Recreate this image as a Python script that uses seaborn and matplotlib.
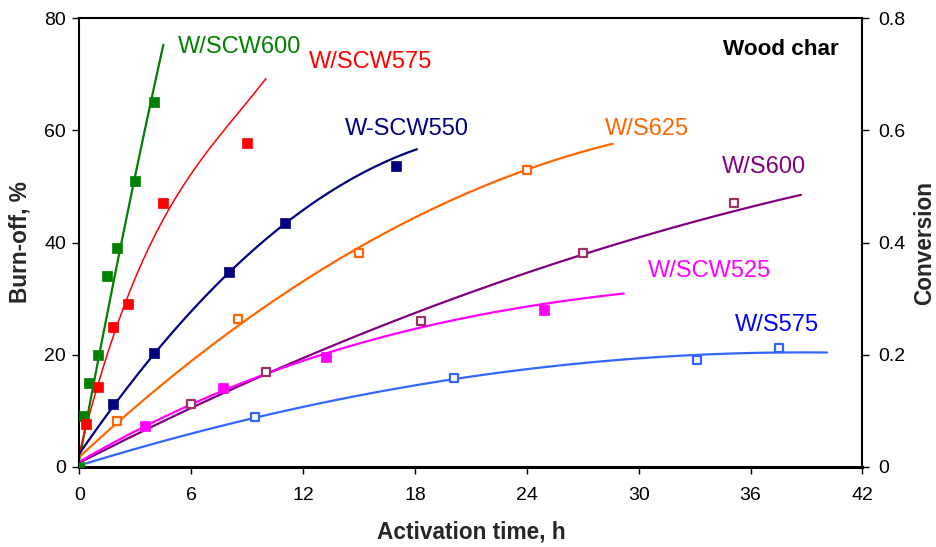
import matplotlib
matplotlib.use("Agg")
import matplotlib.pyplot as plt
import seaborn as sns

# ---------------------------------------------------------------
# measured burn-off (%) against activation time (h)
# ---------------------------------------------------------------
scw600_t = [0, 0.25, 0.5, 1, 1.5, 2, 3, 4]
scw600_y = [0, 9, 15, 20, 34, 39, 51, 65]
scw575_t = [0.33, 1, 1.8, 2.6, 4.5, 9]
scw575_y = [7.6, 14.3, 25, 29, 47, 57.7]
scw550_t = [1.8, 4, 8, 11, 17]
scw550_y = [11.2, 20.3, 34.7, 43.5, 53.6]
s625_t = [2, 8.5, 15, 24]
s625_y = [8.1, 26.3, 38.1, 53]
s600_t = [6, 10, 18.3, 27, 35.1]
s600_y = [11.2, 16.9, 26, 38.1, 47]
scw525_t = [3.5, 7.7, 13.2, 24.9]
scw525_y = [7.3, 14.1, 19.5, 27.9]
s575_t = [9.4, 20.1, 33.1, 37.5]
s575_y = [8.8, 15.8, 19, 21.1]

# trend lines (smoothed by seaborn's regplot)
scw600_fit_t = [0, 1, 2, 3, 4, 4.5]
scw600_fit_y = [1, 19.7, 35.7, 51.7, 67.5, 75.6]
scw575_fit_t = [0, 0.33, 1, 1.8, 2.6, 4, 5.5, 7, 8.5, 10]
scw575_fit_y = [2, 7, 15, 23.5, 30.5, 40.5, 49.5, 57, 63.5, 69]
scw550_fit_t = [0, 1, 2, 4, 6, 8, 11.3, 15, 18.1]
scw550_fit_y = [2, 7, 12, 20.3, 27.7, 34.7, 43.7, 52, 56.8]
s625_fit_t = [0, 2, 5, 8.4, 11.5, 15, 19, 23, 28.6]
s625_fit_y = [0.8, 8.3, 16.8, 25.4, 32, 38.5, 45.6, 52, 57.8]
s600_fit_t = [0, 6, 11.7, 18.3, 23, 27.1, 33, 38.7]
s600_fit_y = [0.5, 11, 18.8, 27.4, 33.4, 38.3, 43.8, 48.4]
scw525_fit_t = [0, 3.5, 7.7, 11.5, 15, 18.3, 23, 29.2]
scw525_fit_y = [0.8, 7.2, 14, 18.1, 21.6, 24.9, 28.3, 30.8]
s575_fit_t = [0, 6, 9.4, 11.5, 15, 20.1, 27.5, 32.3, 37.5, 40.1]
s575_fit_y = [0.3, 5.7, 8.8, 10.3, 12.7, 15.8, 18.6, 19.7, 20.4, 20.4]

series_names = ['W/SCW600', 'W/SCW575', 'W-SCW550', 'W/S625',
                'W/S600', 'W/SCW525', 'W/S575']

# ---------------------------------------------------------------
# styling
# ---------------------------------------------------------------
sns.set_theme(style="white")
plt.rcParams['font.family'] = ['Liberation Sans', 'DejaVu Sans']

points = {
    'W/SCW600': (scw600_t, scw600_y),
    'W/SCW575': (scw575_t, scw575_y),
    'W-SCW550': (scw550_t, scw550_y),
    'W/S625': (s625_t, s625_y),
    'W/S600': (s600_t, s600_y),
    'W/SCW525': (scw525_t, scw525_y),
    'W/S575': (s575_t, s575_y),
}
fits = {
    'W/SCW600': (scw600_fit_t, scw600_fit_y),
    'W/SCW575': (scw575_fit_t, scw575_fit_y),
    'W-SCW550': (scw550_fit_t, scw550_fit_y),
    'W/S625': (s625_fit_t, s625_fit_y),
    'W/S600': (s600_fit_t, s600_fit_y),
    'W/SCW525': (scw525_fit_t, scw525_fit_y),
    'W/S575': (s575_fit_t, s575_fit_y),
}
# line colour, marker colour, filled?, line width, label colour, label position, trend order
style = {
    'W/SCW600': ('#008000', '#008000', True, 1.6, '#008000', (5.28, 73.8), 2),
    'W/SCW575': ('#FF0000', '#FF0000', True, 1.1, '#FF0000', (12.31, 71.1), 3),
    'W-SCW550': ('#000080', '#000080', True, 1.6, '#000080', (14.24, 59.2), 2),
    'W/S625': ('#FF6600', '#FF6600', False, 1.6, '#FF6600', (28.19, 59.2), 2),
    'W/S600': ('#800080', '#993366', False, 1.6, '#800080', (34.45, 52.4), 2),
    'W/SCW525': ('#FF00FF', '#FF00FF', True, 1.6, '#FF00FF', (30.5, 33.9), 3),
    'W/S575': ('#3366FF', '#3366FF', False, 1.6, '#0000FF', (35.17, 24.2), 3),
}

fig = plt.figure(figsize=(9.36, 5.47), dpi=100)
ax = fig.add_axes([0.0849, 0.1468, 0.8365, 0.8197])

# trend lines first, markers on top
for name in series_names:
    lc, mc, filled, lw, tc, pos, order = style[name]
    ft, fy = fits[name]
    sns.regplot(x=ft, y=fy, ax=ax, order=order, ci=None, scatter=False,
                truncate=True, color=lc, line_kws=dict(linewidth=lw, zorder=2))

for name in series_names:
    lc, mc, filled, lw, tc, pos, order = style[name]
    pt, py = points[name]
    if filled:
        sns.scatterplot(x=pt, y=py, ax=ax, marker='s', s=44, color=mc,
                        edgecolor=mc, linewidth=0.5, legend=False, zorder=3)
    else:
        sns.scatterplot(x=pt, y=py, ax=ax, marker='s', s=32, facecolor='white',
                        edgecolor=mc, linewidth=1.6, legend=False, zorder=3)
    ax.text(pos[0], pos[1], name, color=tc, fontsize=17,
            ha='left', va='baseline')

ax.text(34.5, 73.45, 'Wood char', color='black', fontsize=16.2,
        fontweight='bold', ha='left', va='baseline')

ax.set_xlim(0, 42)
ax.set_ylim(0, 80)
ax.set_xticks(range(0, 43, 6))
ax.set_yticks(range(0, 81, 20))
ax.tick_params(axis='both', direction='out', length=4.7, width=1.0,
               color='black', labelsize=14, labelcolor='black',
               left=True, bottom=True)
ax.tick_params(axis='x', pad=10)
ax.tick_params(axis='y', pad=5)
for side in ['left', 'right', 'top']:
    ax.spines[side].set_linewidth(1.5)
    ax.spines[side].set_color('black')
ax.spines['bottom'].set_linewidth(2.2)
ax.spines['bottom'].set_color('black')

ax.set_xlabel('Activation time, h', fontsize=16.3, fontweight='bold')
ax.set_ylabel('Burn-off, %', fontsize=16.3, fontweight='bold')
ax.xaxis.set_label_coords(0.5, -0.121)
ax.yaxis.set_label_coords(-0.061, 0.5)

# second axis: conversion = burn-off / 100
ax2 = ax.twinx()
ax2.set_ylim(0, 0.8)
ax2.set_yticks([0, 0.2, 0.4, 0.6, 0.8])
ax2.set_yticklabels(['0', '0.2', '0.4', '0.6', '0.8'])
ax2.tick_params(axis='y', direction='out', length=4.7, width=1.0,
                color='black', labelsize=14, labelcolor='black', pad=7,
                right=True)
for side in ['left', 'right', 'top', 'bottom']:
    ax2.spines[side].set_visible(False)
ax2.set_ylabel('Conversion', fontsize=16.3, fontweight='bold')
ax2.yaxis.set_label_coords(1.0645, 0.5)
ax2.grid(False)
ax.grid(False)

plt.savefig('out.png', dpi=100)
